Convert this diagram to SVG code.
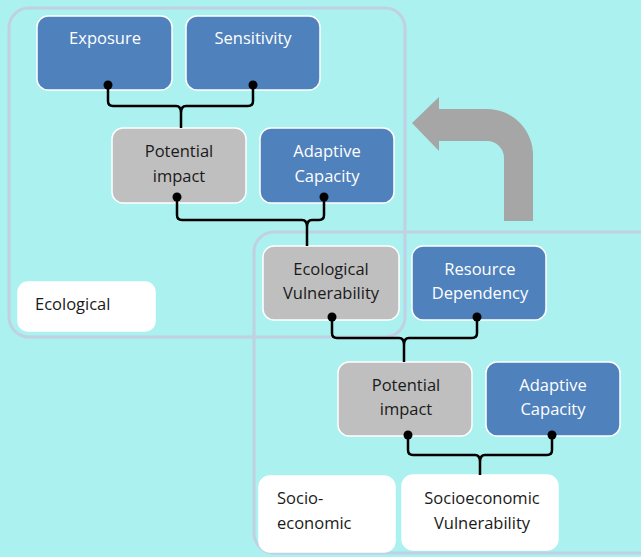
<svg xmlns="http://www.w3.org/2000/svg" width="641" height="557" viewBox="0 0 641 557">
<style>
.bg{fill:#aaf1ef}
.cont{fill:none;stroke:#c2d0e4;stroke-width:3}
.blue{fill:#4f81bd;stroke:#ffffff;stroke-width:1.5}
.gray{fill:#bfbfbf;stroke:#ffffff;stroke-width:1.5}
.white{fill:#ffffff;stroke:#ffffff;stroke-width:1.5}
text{font-family:"Open Sans","Liberation Sans",sans-serif;font-size:16.5px}
.tw{fill:#ffffff;text-anchor:middle}
.tb{fill:#1a1a1a;text-anchor:middle}
.tl{fill:#1a1a1a}
.con{fill:none;stroke:#000000;stroke-width:2.5}
.dot{fill:#000000}
</style>
<rect class="bg" x="0" y="0" width="641" height="557"/>
<g id="containers">
<rect class="cont" x="9" y="8" width="396" height="329" rx="20"/>
<rect class="cont" x="254" y="232" width="420" height="321" rx="20"/>
</g>
<path id="arrow" d="M412,123 L439,97 L439,109 L487,109 A46,46 0 0 1 533,155 L533,221 L504,221 L504,158 A17,17 0 0 0 487,141 L439,141 L439,151 Z" fill="#a6a6a6"/>
<g id="exposure"><rect class="blue" x="37" y="16" width="135" height="74" rx="11"/><text class="tw" x="105" y="44">Exposure</text></g>
<g id="sensitivity"><rect class="blue" x="186" y="16" width="134" height="74" rx="11"/><text class="tw" x="253" y="44">Sensitivity</text></g>
<g id="potential-impact-1"><rect class="gray" x="112" y="128" width="134" height="75" rx="11"/><text class="tb" x="179" y="157">Potential</text><text class="tb" x="179" y="182">impact</text></g>
<g id="adaptive-capacity-1"><rect class="blue" x="260" y="128" width="134" height="75" rx="11"/><text class="tw" x="327" y="157">Adaptive</text><text class="tw" x="327" y="182">Capacity</text></g>
<g id="ecological-vulnerability"><rect class="gray" x="263" y="246" width="136" height="74" rx="11"/><text class="tb" x="331" y="275">Ecological</text><text class="tb" x="331" y="299">Vulnerability</text></g>
<g id="resource-dependency"><rect class="blue" x="412" y="246" width="134" height="74" rx="11"/><text class="tw" x="480" y="275">Resource</text><text class="tw" x="480" y="299">Dependency</text></g>
<g id="potential-impact-2"><rect class="gray" x="338" y="362" width="134" height="74" rx="11"/><text class="tb" x="406" y="391">Potential</text><text class="tb" x="406" y="415">impact</text></g>
<g id="adaptive-capacity-2"><rect class="blue" x="486" y="362" width="134" height="74" rx="11"/><text class="tw" x="553" y="391">Adaptive</text><text class="tw" x="553" y="415">Capacity</text></g>
<g id="ecological-label"><rect class="white" x="18" y="282" width="137" height="49" rx="10"/><text class="tl" x="35" y="310">Ecological</text></g>
<g id="socio-economic-label"><rect class="white" x="259" y="476" width="136" height="76" rx="11"/><text class="tl" x="277" y="504">Socio-</text><text class="tl" x="277" y="529">economic</text></g>
<g id="socioeconomic-vulnerability"><rect class="white" x="402" y="475" width="156" height="75" rx="11"/><text class="tb" x="482" y="504">Socioeconomic</text><text class="tb" x="482" y="529">Vulnerability</text></g>
<g id="connectors">
<path class="con" d="M108,85 V101 Q108,106 113,106 H176 Q181,106 181,113 V128 M253,85 V101 Q253,106 248,106 H186 Q181,106 181,113"/>
<path class="con" d="M177,197 V215 Q177,220 182,220 H302 Q307,220 307,227 V246 M324,197 V215 Q324,220 319,220 H312 Q307,220 307,227"/>
<path class="con" d="M332,317 V333 Q332,338 337,338 H399 Q404,338 404,345 V362 M477,317 V333 Q477,338 472,338 H409 Q404,338 404,345"/>
<path class="con" d="M408,435 V450 Q408,455 413,455 H475 Q480,455 480,462 V475 M552,435 V450 Q552,455 547,455 H485 Q480,455 480,462"/>
<circle class="dot" cx="108" cy="85" r="4.5"/>
<circle class="dot" cx="253" cy="85" r="4.5"/>
<circle class="dot" cx="177" cy="197" r="4.5"/>
<circle class="dot" cx="324" cy="197" r="4.5"/>
<circle class="dot" cx="332" cy="317" r="4.5"/>
<circle class="dot" cx="477" cy="317" r="4.5"/>
<circle class="dot" cx="408" cy="435" r="4.5"/>
<circle class="dot" cx="552" cy="435" r="4.5"/>
</g>
</svg>
